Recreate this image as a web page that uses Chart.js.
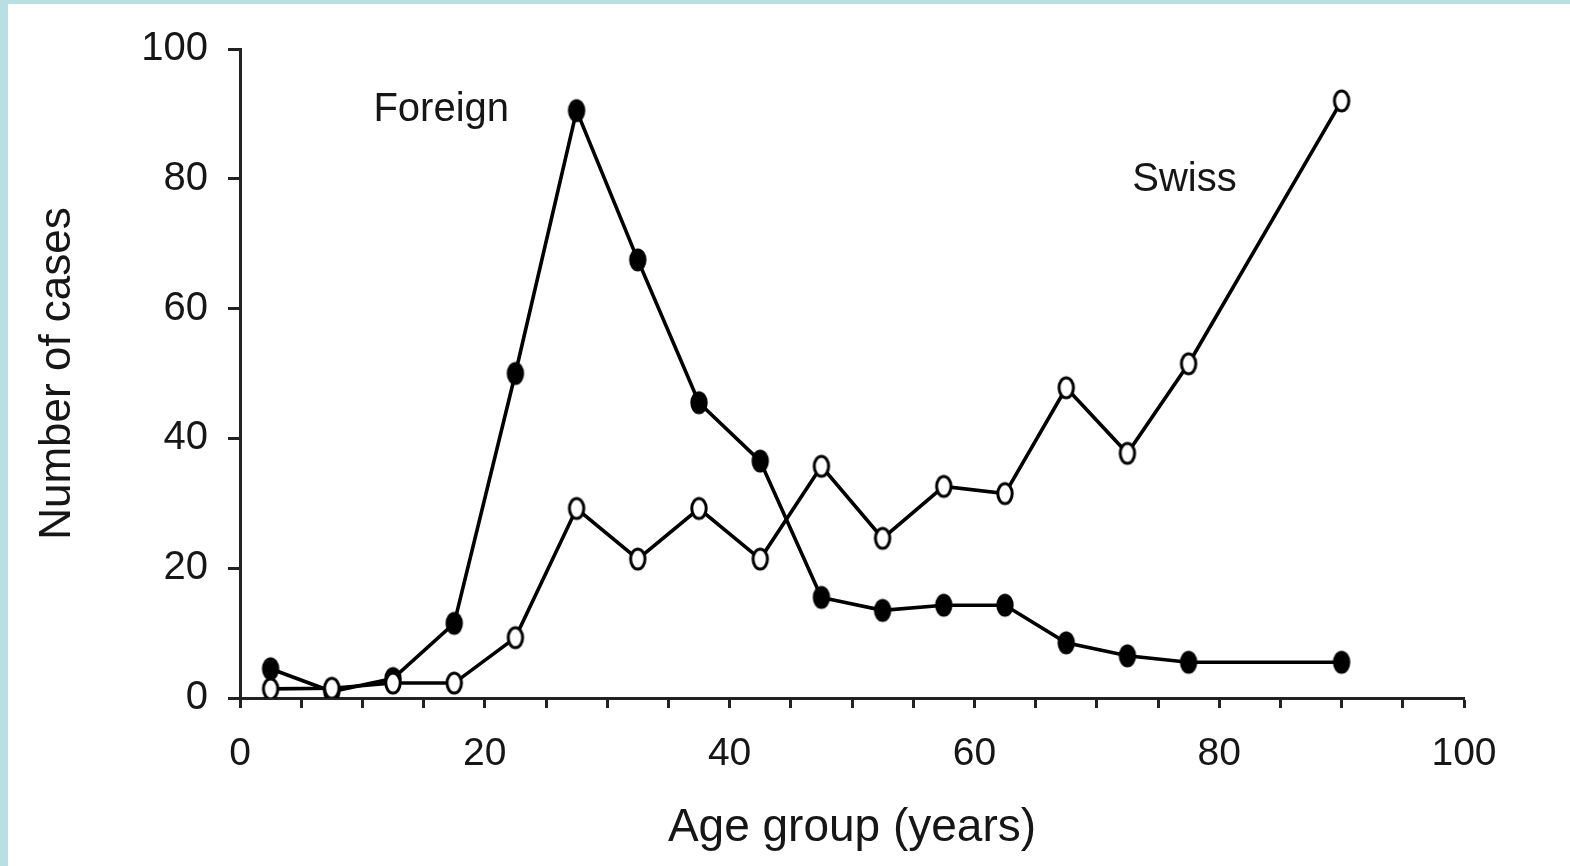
<!DOCTYPE html>
<html>
<head>
<meta charset="utf-8">
<script src="https://cdn.jsdelivr.net/npm/chart.js@4/dist/chart.umd.min.js"></script>
<style>
  html, body { margin: 0; padding: 0; background: #ffffff; }
  #wrap { position: relative; width: 1570px; height: 866px; overflow: hidden; }
  canvas { position: absolute; left: 0; top: 0; }
  .strip { position: absolute; background: #b9dfe3; }
</style>
</head>
<body>
<div id="wrap">
  <canvas id="c" width="1570" height="866"></canvas>
  <div class="strip" style="left:0;top:0;width:8px;height:866px;"></div>
  <div class="strip" style="left:0;top:0;width:1570px;height:4px;"></div>
</div>
<script>
// ---- data ----
const ages    = [2.5, 7.5, 12.5, 17.5, 22.5, 27.5, 32.5, 37.5, 42.5, 47.5, 52.5, 57.5, 62.5, 67.5, 72.5, 77.5, 90];
const foreign = [4.5, 1.0, 3.0, 11.5, 50.0, 90.5, 67.5, 45.5, 36.5, 15.5, 13.5, 14.3, 14.3, 8.5, 6.5, 5.5, 5.5];
const swiss   = [1.4, 1.5, 2.3, 2.3, 9.3, 29.2, 21.4, 29.2, 21.4, 35.7, 24.6, 32.6, 31.5, 47.8, 37.7, 51.5, 92.0];
const xTickLabels = [0, 20, 40, 60, 80, 100];
const yTickLabels = [0, 20, 40, 60, 80, 100];
const seriesNames = ['Foreign', 'Swiss'];
const xTitle = 'Age group (years)';
const yTitle = 'Number of cases';

// annotation labels placed in data coordinates
const annotations = [
  { text: 'Foreign', x: 10.9, y: 90.6 },
  { text: 'Swiss',   x: 72.9, y: 79.8 }
];

const FONT = '"Liberation Sans", Arial, Helvetica, sans-serif';
const INK = '#161616';

function ellipseMarker(filled) {
  const w = 22, h = 28;
  const cv = document.createElement('canvas');
  cv.width = w; cv.height = h;
  const g = cv.getContext('2d');
  g.beginPath();
  g.ellipse(w / 2, h / 2, 7.2, 10, 0, 0, Math.PI * 2);
  g.fillStyle = filled ? '#000' : '#fff';
  g.fill();
  g.lineWidth = 3;
  g.strokeStyle = '#000';
  g.stroke();
  return cv;
}

const toPoints = ys => ages.map((a, i) => ({ x: a, y: ys[i] }));

const annotationPlugin = {
  id: 'annot',
  afterDatasetsDraw(chart) {
    const { ctx, scales } = chart;
    ctx.save();
    ctx.font = '40px ' + FONT;
    ctx.fillStyle = INK;
    ctx.textAlign = 'left';
    ctx.textBaseline = 'middle';
    annotations.forEach(a => {
      ctx.fillText(a.text, scales.x.getPixelForValue(a.x), scales.y.getPixelForValue(a.y));
    });
    ctx.restore();
  }
};

const bgPlugin = {
  id: 'bg',
  beforeDraw(chart) {
    const ctx = chart.ctx;
    ctx.save();
    ctx.fillStyle = '#ffffff';
    ctx.fillRect(0, 0, chart.width, chart.height);
    ctx.restore();
  }
};

new Chart(document.getElementById('c'), {
  type: 'scatter',
  data: {
    datasets: [
      {
        label: seriesNames[1],
        data: toPoints(swiss),
        showLine: true,
        borderColor: '#000',
        borderWidth: 3.6,
        tension: 0,
        pointStyle: ellipseMarker(false),
        order: 0
      },
      {
        label: seriesNames[0],
        data: toPoints(foreign),
        showLine: true,
        borderColor: '#000',
        borderWidth: 3.6,
        tension: 0,
        pointStyle: ellipseMarker(true),
        order: 1
      }
    ]
  },
  options: {
    responsive: false,
    animation: false,
    events: [],
    layout: { padding: { left: 0, right: 106, top: 49, bottom: 0 } },
    plugins: { legend: { display: false }, tooltip: { enabled: false } },
    scales: {
      x: {
        type: 'linear',
        min: 0, max: 100,
        afterFit(scale) { scale.height = 168; },
        ticks: {
          stepSize: 5,
          autoSkip: false,
          maxRotation: 0,
          padding: 23,
          color: INK,
          font: { family: FONT, size: 39 },
          callback: v => (xTickLabels.includes(v) ? String(v) : '')
        },
        grid: {
          display: true, drawOnChartArea: false, drawTicks: true,
          tickLength: 10, tickWidth: 3, tickColor: '#222'
        },
        border: { display: true, color: '#222', width: 3 },
        title: {
          display: true, text: xTitle, color: INK,
          font: { family: FONT, size: 46 },
          padding: { top: 0, bottom: 10 }
        }
      },
      y: {
        type: 'linear',
        min: 0, max: 100,
        afterFit(scale) { scale.width = 240; },
        ticks: {
          stepSize: 20,
          padding: 20,
          color: INK,
          font: { family: FONT, size: 40 },
          callback: v => (yTickLabels.includes(v) ? String(v) : '')
        },
        grid: {
          display: true, drawOnChartArea: false, drawTicks: true,
          tickLength: 12, tickWidth: 3, tickColor: '#222'
        },
        border: { display: true, color: '#222', width: 3 },
        title: {
          display: true, text: yTitle, color: INK,
          font: { family: FONT, size: 44 },
          padding: { top: 31, bottom: 0 }
        }
      }
    }
  },
  plugins: [bgPlugin, annotationPlugin]
});
</script>
</body>
</html>
